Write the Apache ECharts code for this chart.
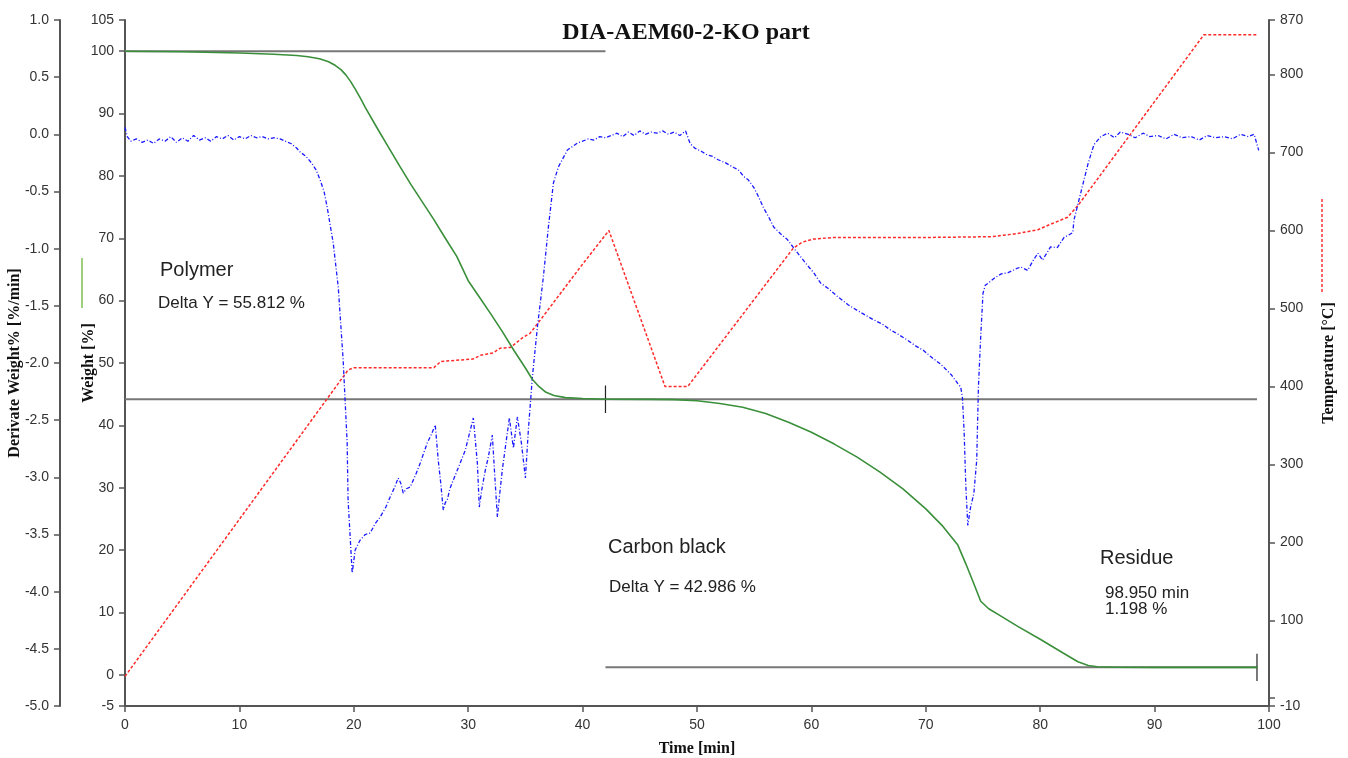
<!DOCTYPE html>
<html><head><meta charset="utf-8">
<script src="https://cdn.jsdelivr.net/npm/echarts@6/dist/echarts.min.js"></script>
<style>html,body{margin:0;padding:0;background:#fff}#chart{width:1348px;height:758px}</style>
</head><body><div id="chart"></div>
<script>
// TGA weight curve, % of initial mass
const weightTime = [0, 5, 10, 13, 15, 16, 17, 17.8, 18.4, 18.9, 19.3, 19.7, 20.1, 20.6, 21, 22, 23, 24, 25, 26, 27, 28, 29, 30, 31, 32, 33, 34, 35, 35.6, 36.2, 36.8, 37.5, 38.5, 40, 42, 46, 48, 50, 52, 54, 56, 58, 60, 62, 64, 66, 68, 70, 71.5, 72.8, 73.5, 74.2, 74.8, 75.5, 76.5, 78, 80, 82, 83.3, 84.2, 85, 86.5, 90, 95, 99];
const weightPct = [100, 99.9, 99.7, 99.5, 99.3, 99.1, 98.8, 98.3, 97.7, 97.0, 96.2, 95.2, 94.0, 92.4, 91.0, 87.8, 84.7, 81.6, 78.6, 75.8, 73.0, 70.0, 67.1, 63.2, 60.5, 57.8, 55.0, 52.0, 49.2, 47.4, 46.2, 45.3, 44.8, 44.45, 44.3, 44.19, 44.17, 44.12, 43.95, 43.5, 42.9, 41.9, 40.5, 38.9, 37.0, 34.9, 32.5, 29.8, 26.6, 23.8, 20.8, 17.8, 14.6, 11.8, 10.6, 9.5, 7.8, 5.7, 3.5, 2.1, 1.5, 1.3, 1.22, 1.2, 1.2, 1.198];

// DTG curve, %/min
const derivTime = [0.0, 0.2, 0.5, 1.0, 1.5, 2.0, 2.5, 3.0, 3.5, 4.0, 4.5, 5.0, 5.5, 6.0, 6.5, 7.0, 7.5, 8.0, 8.5, 9.0, 9.5, 10.0, 10.5, 11.0, 11.5, 12.0, 12.5, 13.0, 13.56, 14.0, 14.5, 15.0, 15.31, 15.8, 16.3, 16.7, 17.06, 17.4, 17.67, 18.2, 18.64, 19.07, 19.42, 19.5, 19.86, 20.12, 20.56, 21.0, 21.43, 21.9, 22.31, 22.8, 23.18, 23.6, 23.88, 24.1, 24.32, 24.6, 24.93, 25.4, 25.81, 26.1, 26.42, 26.8, 27.12, 27.38, 27.6, 27.82, 28.0, 28.17, 28.4, 28.7, 29.2, 29.75, 30.1, 30.45, 30.6, 30.8, 30.97, 31.2, 31.5, 31.76, 32.11, 32.3, 32.55, 32.75, 32.98, 33.3, 33.6, 33.95, 34.3, 34.65, 35.0, 35.26, 35.61, 36.05, 36.57, 37.01, 37.45, 37.88, 38.67, 39.55, 40.0, 40.5, 41.0, 41.5, 42.0, 42.5, 43.0, 43.5, 44.0, 44.5, 45.0, 45.5, 46.0, 46.5, 47.0, 47.5, 48.0, 48.5, 49.0, 49.4, 49.8, 50.4, 50.9, 51.3, 51.8, 52.5, 53.2, 53.6, 54.1, 54.5, 55.0, 55.4, 55.8, 56.3, 56.7, 57.3, 57.9, 58.5, 59.05, 59.6, 60.2, 60.8, 61.5, 62.3, 63.2, 64.0, 64.7, 65.4, 66.2, 66.9, 67.6, 68.4, 69.1, 69.8, 70.5, 71.3, 72.2, 72.8, 73.05, 73.2, 73.35, 73.5, 73.67, 73.9, 74.2, 74.45, 74.6, 74.8, 75.0, 75.2, 75.6, 76.1, 76.6, 77.2, 77.8, 78.3, 78.9, 79.4, 79.8, 80.2, 80.9, 81.5, 82.1, 82.5, 82.85, 82.95, 83.55, 84.2, 84.7, 85.3, 85.9, 86.5, 87.0, 87.7, 88.3, 89.0, 89.6, 90.3, 91.0, 91.7, 92.4, 93.2, 93.9, 94.6, 95.3, 96.1, 96.8, 97.5, 98.2, 98.7, 99.1];
const derivRate = [0.06, -0.02, -0.06, -0.04, -0.07, -0.05, -0.08, -0.04, -0.06, -0.02, -0.07, -0.03, -0.06, -0.01, -0.05, -0.03, -0.06, -0.02, -0.04, -0.01, -0.05, -0.02, -0.04, -0.01, -0.03, -0.02, -0.04, -0.03, -0.04, -0.06, -0.08, -0.12, -0.155, -0.19, -0.25, -0.31, -0.40, -0.50, -0.636, -0.95, -1.335, -1.974, -2.70, -3.2, -3.837, -3.636, -3.548, -3.50, -3.487, -3.40, -3.347, -3.26, -3.172, -3.08, -3.006, -3.05, -3.137, -3.10, -3.085, -2.98, -2.875, -2.79, -2.70, -2.62, -2.542, -2.849, -3.05, -3.286, -3.22, -3.198, -3.10, -3.023, -2.90, -2.761, -2.62, -2.481, -2.65, -2.875, -3.26, -3.10, -2.936, -2.822, -2.630, -2.95, -3.347, -3.15, -2.936, -2.70, -2.481, -2.744, -2.472, -2.70, -3.006, -2.586, -2.122, -1.685, -1.248, -0.811, -0.426, -0.286, -0.137, -0.076, -0.06, -0.04, -0.05, -0.02, -0.03, -0.01, 0.01, -0.02, 0.02, -0.01, 0.03, 0.00, 0.02, 0.01, 0.03, 0.00, 0.02, -0.01, 0.03, -0.08, -0.12, -0.15, -0.18, -0.19, -0.22, -0.25, -0.29, -0.31, -0.37, -0.40, -0.47, -0.55, -0.64, -0.73, -0.81, -0.87, -0.92, -1.00, -1.07, -1.14, -1.21, -1.30, -1.35, -1.42, -1.49, -1.54, -1.58, -1.62, -1.66, -1.71, -1.75, -1.80, -1.85, -1.89, -1.95, -2.01, -2.10, -2.18, -2.21, -2.30, -2.60, -3.08, -3.42, -3.27, -3.14, -2.85, -2.21, -1.77, -1.39, -1.32, -1.29, -1.25, -1.22, -1.21, -1.18, -1.16, -1.19, -1.10, -1.04, -1.10, -0.985, -0.99, -0.90, -0.88, -0.86, -0.75, -0.51, -0.25, -0.09, -0.02, 0.01, -0.03, 0.02, 0.00, -0.03, 0.01, -0.02, -0.01, -0.04, 0.00, -0.03, -0.02, -0.05, -0.01, -0.03, -0.02, -0.04, 0.00, -0.02, 0.00, -0.14];

// Temperature program, °C
const tempTime = [0, 19.5, 20, 27, 27.6, 30.4, 31.1, 32.2, 32.8, 33.7, 34.8, 35.4, 36.3, 39.8, 42.3, 47.2, 49.2, 58.4, 59.2, 60.2, 62, 70, 75.7, 78, 79.8, 80.9, 82.4, 83.3, 94.3, 99];
const tempC = [28, 421, 424, 424, 432, 435, 440, 443, 449, 450, 463, 468, 485, 553, 600, 400, 400, 577, 585, 589, 591, 591, 592, 596, 601, 608, 617, 632, 851, 851];

// Step evaluation results
const polymerDelta = 55.812;
const carbonDelta = 42.986;
const residuePct = 1.198;
const residueTime = 98.950;
const stepStartTime = 0;
const stepSplitTime = 42;
const initialWeight = 100;

// Axis tick values
const weightTicks = [-5, 0, 10, 20, 30, 40, 50, 60, 70, 80, 90, 100, 105];
const tempTicks = [-10, 0, 100, 200, 300, 400, 500, 600, 700, 800, 870];
const tempLabels = [-10, 100, 200, 300, 400, 500, 600, 700, 800, 870];

const zip = (a, b) => a.map((v, i) => [v, b[i]]);
const afterPolymer = initialWeight - polymerDelta;
const tickHalf = 2.2;

const labelStyle = { color: '#333', fontSize: 14, fontFamily: 'Liberation Sans, Arial, sans-serif' };
const titleStyle = { color: '#111', fontSize: 16, fontWeight: 'bold', fontFamily: 'Liberation Serif, Times New Roman, serif' };
const axisLine = { show: true, onZero: false, lineStyle: { color: '#555', width: 2 } };
const axisTick = { show: true, length: 6, lineStyle: { color: '#555', width: 1.5 } };

const chart = echarts.init(document.getElementById('chart'), null, { renderer: 'canvas' });
const annFont = 'Liberation Sans, Arial, sans-serif';

chart.setOption({
  animation: false,
  backgroundColor: '#fff',
  title: {
    text: 'DIA-AEM60-2-KO part', left: 681, top: 16, textAlign: 'center',
    textStyle: { fontSize: 24, fontWeight: 'bold', color: '#111', fontFamily: 'Liberation Serif, Times New Roman, serif' }
  },
  grid: { left: 125, right: 79, top: 20, bottom: 52, containLabel: false, outerBoundsMode: 'none' },
  xAxis: {
    type: 'value', min: 0, max: 100, interval: 10,
    name: 'Time [min]', nameLocation: 'middle', nameGap: 35, nameMoveOverlap: false, nameTextStyle: titleStyle,
    axisLine: axisLine, axisTick: axisTick, splitLine: { show: false },
    axisLabel: Object.assign({ margin: 12 }, labelStyle)
  },
  yAxis: [
    {
      type: 'value', min: -5, max: 105, position: 'left',
      name: 'Weight [%]', nameLocation: 'middle', nameGap: 28, nameMoveOverlap: false, nameTextStyle: titleStyle,
      axisLine: axisLine, splitLine: { show: false },
      axisTick: Object.assign({ customValues: weightTicks }, axisTick),
      axisLabel: Object.assign({ customValues: weightTicks, margin: 11 }, labelStyle)
    },
    {
      type: 'value', min: -5, max: 1, interval: 0.5, position: 'left', offset: 65,
      name: 'Derivate Weight% [%/min]', nameLocation: 'middle', nameGap: 32, nameMoveOverlap: false,
      nameTextStyle: Object.assign({ backgroundColor: '#fff', padding: [5, 2] }, titleStyle),
      axisLine: axisLine, axisTick: axisTick, splitLine: { show: false },
      axisLabel: Object.assign({ margin: 11, formatter: v => v.toFixed(1) }, labelStyle)
    },
    {
      type: 'value', min: -10, max: 870, position: 'right',
      name: 'Temperature [°C]', nameLocation: 'middle', nameGap: 52, nameMoveOverlap: false, nameTextStyle: titleStyle,
      axisLine: axisLine, splitLine: { show: false },
      axisTick: Object.assign({ customValues: tempTicks }, axisTick),
      axisLabel: Object.assign({ customValues: tempLabels, margin: 11 }, labelStyle)
    }
  ],
  graphic: [
    // short series keys beside the axis titles
    { type: 'line', shape: { x1: 82, y1: 258, x2: 82, y2: 308 }, style: { stroke: '#7cbf55', lineWidth: 1.5 } },
    { type: 'line', shape: { x1: 1322, y1: 199, x2: 1322, y2: 292 }, style: { stroke: '#ff3030', lineWidth: 1.5, lineDash: [3, 2] } },
    // step annotations
    { type: 'text', x: 160, y: 270, style: { text: 'Polymer', font: '20px ' + annFont, fill: '#222', verticalAlign: 'middle' } },
    { type: 'text', x: 158, y: 303, style: { text: 'Delta Y = ' + polymerDelta.toFixed(3) + ' %', font: '17px ' + annFont, fill: '#222', verticalAlign: 'middle' } },
    { type: 'text', x: 608, y: 547, style: { text: 'Carbon black', font: '20px ' + annFont, fill: '#222', verticalAlign: 'middle' } },
    { type: 'text', x: 609, y: 587, style: { text: 'Delta Y = ' + carbonDelta.toFixed(3) + ' %', font: '17px ' + annFont, fill: '#222', verticalAlign: 'middle' } },
    { type: 'text', x: 1100, y: 558, style: { text: 'Residue', font: '20px ' + annFont, fill: '#222', verticalAlign: 'middle' } },
    { type: 'text', x: 1105, y: 593, style: { text: residueTime.toFixed(3) + ' min', font: '17px ' + annFont, fill: '#222', verticalAlign: 'middle' } },
    { type: 'text', x: 1105, y: 609, style: { text: residuePct.toFixed(3) + ' %', font: '17px ' + annFont, fill: '#222', verticalAlign: 'middle' } }
  ],
  series: [
    // step evaluation levels
    { type: 'line', yAxisIndex: 0, silent: true, symbol: 'none', lineStyle: { color: '#777', width: 2 },
      data: [[stepStartTime, initialWeight], [stepSplitTime, initialWeight]] },
    { type: 'line', yAxisIndex: 0, silent: true, symbol: 'none', lineStyle: { color: '#777', width: 2 },
      data: [[stepStartTime, afterPolymer], [residueTime, afterPolymer]] },
    { type: 'line', yAxisIndex: 0, silent: true, symbol: 'none', lineStyle: { color: '#777', width: 2 },
      data: [[stepSplitTime, residuePct], [residueTime, residuePct]] },
    { type: 'line', yAxisIndex: 0, silent: true, symbol: 'none', lineStyle: { color: '#222', width: 1.2 },
      data: [[stepSplitTime, afterPolymer + tickHalf], [stepSplitTime, afterPolymer - tickHalf]] },
    { type: 'line', yAxisIndex: 0, silent: true, symbol: 'none', lineStyle: { color: '#222', width: 1.2 },
      data: [[residueTime, residuePct + tickHalf], [residueTime, residuePct - tickHalf]] },
    // temperature
    { name: 'Temperature', type: 'line', yAxisIndex: 2, symbol: 'none', z: 3,
      lineStyle: { color: '#ff2a2a', width: 1.5, type: [3, 2] }, data: zip(tempTime, tempC) },
    // derivative weight
    { name: 'Derivate Weight', type: 'line', yAxisIndex: 1, symbol: 'none', z: 4,
      lineStyle: { color: '#1a1aff', width: 1.3, type: [4, 2, 1, 2] }, data: zip(derivTime, derivRate) },
    // weight
    { name: 'Weight', type: 'line', yAxisIndex: 0, symbol: 'none', z: 5,
      lineStyle: { color: '#3a8f3a', width: 1.6 }, data: zip(weightTime, weightPct) }
  ]
});
</script>
</body></html>
